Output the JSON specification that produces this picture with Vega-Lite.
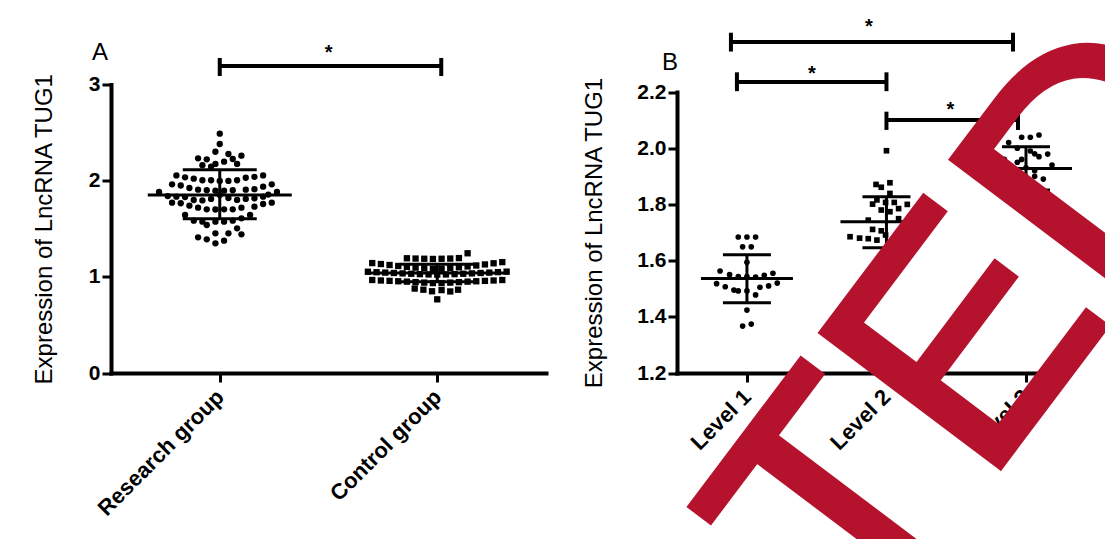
{
  "$schema": "https://vega.github.io/schema/vega-lite/v6.json",
  "background": "white",
  "padding": {"left": 32, "top": -29.5, "right": 0, "bottom": 0},
  "bounds": "flush",
  "spacing": 131,
  "config": {
    "view": {"stroke": null},
    "font": "Liberation Sans",
    "axis": {
      "domainColor": "black", "domainWidth": 4, "domainCap": "square",
      "tickColor": "black", "tickWidth": 3, "tickSize": 9,
      "labelColor": "black", "labelFont": "Liberation Sans", "labelFontWeight": "bold", "labelFontSize": 21, "labelPadding": 2,
      "titleColor": "black", "titleFont": "Liberation Sans", "titleFontWeight": "normal", "titleFontSize": 24, "titlePadding": 31,
      "grid": false
    },
    "title": {"font": "Liberation Sans", "fontSize": 24, "fontWeight": "normal", "color": "black", "anchor": "start", "frame": "group", "align": "right", "baseline": "alphabetic", "offset": 0}
  },
  "datasets": {
    "pointsA": [
      {"group": "Research group", "col": 0, "value": 2.489},
      {"group": "Research group", "col": 0, "value": 2.381},
      {"group": "Research group", "col": -0.5, "value": 2.301},
      {"group": "Research group", "col": 1, "value": 2.277},
      {"group": "Research group", "col": 2.5, "value": 2.26},
      {"group": "Research group", "col": -2.5, "value": 2.232},
      {"group": "Research group", "col": -1.5, "value": 2.222},
      {"group": "Research group", "col": 1.5, "value": 2.225},
      {"group": "Research group", "col": 0.5, "value": 2.198},
      {"group": "Research group", "col": -0.5, "value": 2.174},
      {"group": "Research group", "col": 2, "value": 2.174},
      {"group": "Research group", "col": -2, "value": 2.16},
      {"group": "Research group", "col": -1, "value": 2.145},
      {"group": "Research group", "col": -5, "value": 2.055},
      {"group": "Research group", "col": -4, "value": 2.035},
      {"group": "Research group", "col": -3, "value": 2.021},
      {"group": "Research group", "col": -2, "value": 2.004},
      {"group": "Research group", "col": -1, "value": 2.004},
      {"group": "Research group", "col": 0, "value": 1.997},
      {"group": "Research group", "col": 1, "value": 1.997},
      {"group": "Research group", "col": 2, "value": 2.004},
      {"group": "Research group", "col": 3, "value": 2.03},
      {"group": "Research group", "col": 4, "value": 2.04},
      {"group": "Research group", "col": 5, "value": 2.055},
      {"group": "Research group", "col": -5.5, "value": 1.962},
      {"group": "Research group", "col": -4.5, "value": 1.95},
      {"group": "Research group", "col": -3.5, "value": 1.924},
      {"group": "Research group", "col": -2.5, "value": 1.906},
      {"group": "Research group", "col": -1.5, "value": 1.9},
      {"group": "Research group", "col": -0.5, "value": 1.896},
      {"group": "Research group", "col": 0.5, "value": 1.896},
      {"group": "Research group", "col": 1.5, "value": 1.9},
      {"group": "Research group", "col": 3, "value": 1.906},
      {"group": "Research group", "col": 4, "value": 1.912},
      {"group": "Research group", "col": 5, "value": 1.938},
      {"group": "Research group", "col": 6, "value": 1.962},
      {"group": "Research group", "col": -7, "value": 1.882},
      {"group": "Research group", "col": -6, "value": 1.84},
      {"group": "Research group", "col": -5, "value": 1.834},
      {"group": "Research group", "col": -4, "value": 1.83},
      {"group": "Research group", "col": -3, "value": 1.799},
      {"group": "Research group", "col": -2, "value": 1.795},
      {"group": "Research group", "col": -1, "value": 1.81},
      {"group": "Research group", "col": 0, "value": 1.85},
      {"group": "Research group", "col": 1, "value": 1.82},
      {"group": "Research group", "col": 2, "value": 1.8},
      {"group": "Research group", "col": 3, "value": 1.81},
      {"group": "Research group", "col": 4, "value": 1.816},
      {"group": "Research group", "col": 5, "value": 1.834},
      {"group": "Research group", "col": 5.6, "value": 1.855},
      {"group": "Research group", "col": 6.6, "value": 1.882},
      {"group": "Research group", "col": -5.5, "value": 1.771},
      {"group": "Research group", "col": -4.5, "value": 1.765},
      {"group": "Research group", "col": -3.5, "value": 1.74},
      {"group": "Research group", "col": -2.5, "value": 1.719},
      {"group": "Research group", "col": -1.5, "value": 1.702},
      {"group": "Research group", "col": -0.5, "value": 1.7},
      {"group": "Research group", "col": 0.5, "value": 1.702},
      {"group": "Research group", "col": 1.5, "value": 1.702},
      {"group": "Research group", "col": 2.5, "value": 1.719},
      {"group": "Research group", "col": 4, "value": 1.73},
      {"group": "Research group", "col": 5, "value": 1.757},
      {"group": "Research group", "col": 6, "value": 1.771},
      {"group": "Research group", "col": -4, "value": 1.643},
      {"group": "Research group", "col": -3, "value": 1.584},
      {"group": "Research group", "col": -2, "value": 1.574},
      {"group": "Research group", "col": -1.5, "value": 1.539},
      {"group": "Research group", "col": -0.5, "value": 1.574},
      {"group": "Research group", "col": 0.5, "value": 1.574},
      {"group": "Research group", "col": 1.5, "value": 1.584},
      {"group": "Research group", "col": 2.5, "value": 1.608},
      {"group": "Research group", "col": 3.5, "value": 1.643},
      {"group": "Research group", "col": -2.5, "value": 1.411},
      {"group": "Research group", "col": -1.5, "value": 1.39},
      {"group": "Research group", "col": -0.5, "value": 1.452},
      {"group": "Research group", "col": -0.5, "value": 1.348},
      {"group": "Research group", "col": 0.5, "value": 1.376},
      {"group": "Research group", "col": 1, "value": 1.452},
      {"group": "Research group", "col": 2, "value": 1.504},
      {"group": "Research group", "col": 2.5, "value": 1.442},
      {"group": "Control group", "col": -3.5, "value": 1.193},
      {"group": "Control group", "col": -2.5, "value": 1.19},
      {"group": "Control group", "col": -1.5, "value": 1.188},
      {"group": "Control group", "col": -0.5, "value": 1.186},
      {"group": "Control group", "col": 0.5, "value": 1.188},
      {"group": "Control group", "col": 1.5, "value": 1.19},
      {"group": "Control group", "col": 2.5, "value": 1.195},
      {"group": "Control group", "col": 3.5, "value": 1.245},
      {"group": "Control group", "col": -7.5, "value": 1.143},
      {"group": "Control group", "col": -6.5, "value": 1.133},
      {"group": "Control group", "col": -5.5, "value": 1.123},
      {"group": "Control group", "col": -4.5, "value": 1.113},
      {"group": "Control group", "col": -3.5, "value": 1.104},
      {"group": "Control group", "col": -2.5, "value": 1.096},
      {"group": "Control group", "col": -1.5, "value": 1.089},
      {"group": "Control group", "col": -0.5, "value": 1.083},
      {"group": "Control group", "col": 0.5, "value": 1.084},
      {"group": "Control group", "col": 1.5, "value": 1.091},
      {"group": "Control group", "col": 2.5, "value": 1.099},
      {"group": "Control group", "col": 3.5, "value": 1.108},
      {"group": "Control group", "col": 4.5, "value": 1.118},
      {"group": "Control group", "col": 5.5, "value": 1.129},
      {"group": "Control group", "col": 6.5, "value": 1.141},
      {"group": "Control group", "col": 7.5, "value": 1.153},
      {"group": "Control group", "col": -8, "value": 1.053},
      {"group": "Control group", "col": -7, "value": 1.048},
      {"group": "Control group", "col": -6, "value": 1.044},
      {"group": "Control group", "col": -5, "value": 1.04},
      {"group": "Control group", "col": -4, "value": 1.036},
      {"group": "Control group", "col": -3, "value": 1.032},
      {"group": "Control group", "col": -2, "value": 1.028},
      {"group": "Control group", "col": -1, "value": 1.025},
      {"group": "Control group", "col": 0, "value": 1.023},
      {"group": "Control group", "col": 1, "value": 1.025},
      {"group": "Control group", "col": 2, "value": 1.028},
      {"group": "Control group", "col": 3, "value": 1.032},
      {"group": "Control group", "col": 4, "value": 1.036},
      {"group": "Control group", "col": 5, "value": 1.04},
      {"group": "Control group", "col": 6, "value": 1.044},
      {"group": "Control group", "col": 7, "value": 1.049},
      {"group": "Control group", "col": 8, "value": 1.054},
      {"group": "Control group", "col": -7.5, "value": 0.967},
      {"group": "Control group", "col": -6.5, "value": 0.962},
      {"group": "Control group", "col": -5.5, "value": 0.958},
      {"group": "Control group", "col": -4.5, "value": 0.954},
      {"group": "Control group", "col": -3.5, "value": 0.95},
      {"group": "Control group", "col": -2.5, "value": 0.945},
      {"group": "Control group", "col": -1.5, "value": 0.94},
      {"group": "Control group", "col": -0.5, "value": 0.935},
      {"group": "Control group", "col": 0.5, "value": 0.935},
      {"group": "Control group", "col": 1.5, "value": 0.94},
      {"group": "Control group", "col": 2.5, "value": 0.945},
      {"group": "Control group", "col": 3.5, "value": 0.95},
      {"group": "Control group", "col": 4.5, "value": 0.954},
      {"group": "Control group", "col": 5.5, "value": 0.958},
      {"group": "Control group", "col": 6.5, "value": 0.962},
      {"group": "Control group", "col": 7.5, "value": 0.967},
      {"group": "Control group", "col": -2.6, "value": 0.878},
      {"group": "Control group", "col": -1.6, "value": 0.866},
      {"group": "Control group", "col": -0.6, "value": 0.85},
      {"group": "Control group", "col": 0.5, "value": 0.862},
      {"group": "Control group", "col": 1.5, "value": 0.848},
      {"group": "Control group", "col": 2.4, "value": 0.866},
      {"group": "Control group", "col": 0, "value": 0.766}
    ],
    "summaryA": [
      {"group": "Research group", "mean": 1.85, "lo": 1.605, "hi": 2.114},
      {"group": "Control group", "mean": 1.04, "lo": 0.95, "hi": 1.13}
    ],
    "sigA": [
      {"g1": "Research group", "g2": "Control group", "y": 3.192, "lo": 3.088, "hi": 3.276, "star": 3.269, "label": "*"}
    ],
    "pointsB": [
      {"group": "Level 1", "col": -1, "value": 1.684},
      {"group": "Level 1", "col": 0, "value": 1.684},
      {"group": "Level 1", "col": 1, "value": 1.684},
      {"group": "Level 1", "col": -0.5, "value": 1.649},
      {"group": "Level 1", "col": 0.5, "value": 1.649},
      {"group": "Level 1", "col": 0, "value": 1.594},
      {"group": "Level 1", "col": -3.1, "value": 1.563},
      {"group": "Level 1", "col": -2, "value": 1.55},
      {"group": "Level 1", "col": -1, "value": 1.543},
      {"group": "Level 1", "col": 0, "value": 1.543},
      {"group": "Level 1", "col": 1, "value": 1.541},
      {"group": "Level 1", "col": 2, "value": 1.548},
      {"group": "Level 1", "col": 3, "value": 1.555},
      {"group": "Level 1", "col": -3.5, "value": 1.518},
      {"group": "Level 1", "col": -2.5, "value": 1.507},
      {"group": "Level 1", "col": -1.5, "value": 1.495},
      {"group": "Level 1", "col": -1, "value": 1.492},
      {"group": "Level 1", "col": 0, "value": 1.492},
      {"group": "Level 1", "col": 1, "value": 1.478},
      {"group": "Level 1", "col": 1.5, "value": 1.505},
      {"group": "Level 1", "col": 2.5, "value": 1.51},
      {"group": "Level 1", "col": 3.5, "value": 1.52},
      {"group": "Level 1", "col": 0, "value": 1.424},
      {"group": "Level 1", "col": -0.5, "value": 1.367},
      {"group": "Level 1", "col": 0.5, "value": 1.374},
      {"group": "Level 2", "col": 0, "value": 1.991},
      {"group": "Level 2", "col": -1.2, "value": 1.871},
      {"group": "Level 2", "col": -0.6, "value": 1.861},
      {"group": "Level 2", "col": 0.4, "value": 1.877},
      {"group": "Level 2", "col": 0.4, "value": 1.839},
      {"group": "Level 2", "col": -1.1, "value": 1.816},
      {"group": "Level 2", "col": -0.1, "value": 1.807},
      {"group": "Level 2", "col": 0.9, "value": 1.807},
      {"group": "Level 2", "col": -1.6, "value": 1.801},
      {"group": "Level 2", "col": 1.4, "value": 1.785},
      {"group": "Level 2", "col": -0.6, "value": 1.78},
      {"group": "Level 2", "col": 0.4, "value": 1.774},
      {"group": "Level 2", "col": -2.1, "value": 1.744},
      {"group": "Level 2", "col": 1.4, "value": 1.749},
      {"group": "Level 2", "col": -1.6, "value": 1.711},
      {"group": "Level 2", "col": -0.6, "value": 1.706},
      {"group": "Level 2", "col": -4.2, "value": 1.685},
      {"group": "Level 2", "col": -3.1, "value": 1.68},
      {"group": "Level 2", "col": -2.1, "value": 1.678},
      {"group": "Level 2", "col": -1.1, "value": 1.673},
      {"group": "Level 2", "col": -0.1, "value": 1.691},
      {"group": "Level 2", "col": 2.4, "value": 1.72},
      {"group": "Level 2", "col": 2.4, "value": 1.8},
      {"group": "Level 2", "col": 3.3, "value": 1.7},
      {"group": "Level 2", "col": 1.4, "value": 1.66},
      {"group": "Level 3", "col": -0.5, "value": 2.039},
      {"group": "Level 3", "col": 0.5, "value": 2.039},
      {"group": "Level 3", "col": 1.5, "value": 2.047},
      {"group": "Level 3", "col": 1.5, "value": 1.97},
      {"group": "Level 3", "col": 2.5, "value": 1.979},
      {"group": "Level 3", "col": 0, "value": 1.93},
      {"group": "Level 3", "col": -1, "value": 1.95},
      {"group": "Level 3", "col": 1, "value": 1.92},
      {"group": "Level 3", "col": -2, "value": 1.9},
      {"group": "Level 3", "col": 2, "value": 1.89},
      {"group": "Level 3", "col": -1.5, "value": 1.87},
      {"group": "Level 3", "col": 0.5, "value": 1.86},
      {"group": "Level 3", "col": -0.5, "value": 1.84},
      {"group": "Level 3", "col": 1, "value": 1.98},
      {"group": "Level 3", "col": -1, "value": 2.0},
      {"group": "Level 3", "col": -2.5, "value": 1.96},
      {"group": "Level 3", "col": 3, "value": 1.94},
      {"group": "Level 3", "col": -3, "value": 1.91},
      {"group": "Level 3", "col": 0, "value": 1.88},
      {"group": "Level 3", "col": 2, "value": 1.85},
      {"group": "Level 3", "col": -1.5, "value": 1.82},
      {"group": "Level 3", "col": 0.5, "value": 1.99},
      {"group": "Level 3", "col": -2, "value": 2.02},
      {"group": "Level 3", "col": 1, "value": 1.9},
      {"group": "Level 3", "col": -0.5, "value": 1.96}
    ],
    "summaryB": [
      {"group": "Level 1", "mean": 1.536, "lo": 1.45, "hi": 1.621},
      {"group": "Level 2", "mean": 1.738, "lo": 1.646, "hi": 1.827},
      {"group": "Level 3", "mean": 1.928, "lo": 1.851, "hi": 2.005}
    ],
    "sigB": [
      {"id": 1, "g1": "Level 1", "g2": "Level 3", "y": 2.378, "lo": 2.344, "hi": 2.411, "star": 2.411, "label": "*"},
      {"id": 2, "g1": "Level 1", "g2": "Level 2", "y": 2.236, "lo": 2.203, "hi": 2.27, "star": 2.244, "label": "*"},
      {"id": 3, "g1": "Level 2", "g2": "Level 3", "y": 2.1, "lo": 2.065, "hi": 2.13, "star": 2.116, "label": "*"}
    ],
    "stamp": [{"label": "TED"}]
  },
  "hconcat": [
    {
      "width": 435,
      "height": 288.5,
      "title": {"text": "A", "dx": -19, "dy": 26},
      "layer": [
        {
          "data": {"name": "pointsA"},
          "mark": {"type": "point", "filled": true, "color": "black", "opacity": 1, "size": 40, "clip": false},
          "encoding": {
            "x": {"field": "group", "type": "nominal", "title": null,
                  "scale": {"type": "point", "domain": ["Research group", "Control group"], "padding": 0.5},
                  "axis": {"labelAngle": -45, "labelFontSize": 22, "labelBaseline": "middle", "labelPadding": 11}},
            "xOffset": {"field": "col", "type": "quantitative", "scale": {"domain": [-10, 10], "range": [-86.7, 86.7]}},
            "y": {"field": "value", "type": "quantitative", "title": "Expression of LncRNA TUG1",
                  "scale": {"domain": [0, 3]}, "axis": {"values": [0, 1, 2, 3], "format": "d", "titlePadding": 32}},
            "shape": {"field": "group", "type": "nominal", "scale": {"domain": ["Research group", "Control group"], "range": ["circle", "square"]}, "legend": null}
          }
        },
        {
          "data": {"name": "summaryA"},
          "mark": {"type": "tick", "color": "black", "opacity": 1, "size": 144, "thickness": 3},
          "encoding": {
            "x": {"field": "group", "type": "nominal", "title": null},
            "y": {"field": "mean", "type": "quantitative", "title": "Expression of LncRNA TUG1"}
          }
        },
        {
          "data": {"name": "summaryA"},
          "mark": {"type": "tick", "color": "black", "opacity": 1, "size": 74, "thickness": 3},
          "encoding": {
            "x": {"field": "group", "type": "nominal", "title": null},
            "y": {"field": "hi", "type": "quantitative", "title": "Expression of LncRNA TUG1"}
          }
        },
        {
          "data": {"name": "summaryA"},
          "mark": {"type": "tick", "color": "black", "opacity": 1, "size": 74, "thickness": 3},
          "encoding": {
            "x": {"field": "group", "type": "nominal", "title": null},
            "y": {"field": "lo", "type": "quantitative", "title": "Expression of LncRNA TUG1"}
          }
        },
        {
          "data": {"name": "summaryA"},
          "mark": {"type": "rule", "color": "black", "strokeWidth": 3},
          "encoding": {
            "x": {"field": "group", "type": "nominal", "title": null},
            "y": {"field": "lo", "type": "quantitative", "title": "Expression of LncRNA TUG1"},
            "y2": {"field": "hi"}
          }
        },
        {
          "data": {"name": "sigA"},
          "mark": {"type": "rule", "color": "black", "strokeWidth": 4, "clip": false, "x2Offset": 4},
          "encoding": {
            "x": {"field": "g1", "type": "nominal", "title": null},
            "x2": {"field": "g2"},
            "y": {"field": "y", "type": "quantitative", "title": "Expression of LncRNA TUG1"}
          }
        },
        {
          "data": {"name": "sigA"},
          "mark": {"type": "rule", "color": "black", "strokeWidth": 4, "clip": false},
          "encoding": {
            "x": {"field": "g1", "type": "nominal", "title": null},
            "y": {"field": "lo", "type": "quantitative", "title": "Expression of LncRNA TUG1"},
            "y2": {"field": "hi"}
          }
        },
        {
          "data": {"name": "sigA"},
          "mark": {"type": "rule", "color": "black", "strokeWidth": 4, "clip": false, "xOffset": 4},
          "encoding": {
            "x": {"field": "g2", "type": "nominal", "title": null},
            "y": {"field": "lo", "type": "quantitative", "title": "Expression of LncRNA TUG1"},
            "y2": {"field": "hi"}
          }
        },
        {
          "data": {"name": "sigA"},
          "mark": {"type": "text", "color": "black", "fontSize": 20, "fontWeight": "bold", "font": "Liberation Sans", "align": "center", "baseline": "alphabetic", "dx": 109, "clip": false},
          "encoding": {
            "x": {"field": "g1", "type": "nominal", "title": null},
            "y": {"field": "star", "type": "quantitative", "title": "Expression of LncRNA TUG1"},
            "text": {"field": "label"}
          }
        }
      ]
    },
    {
      "width": 377,
      "height": 288.5,
      "title": {"text": "B", "dx": -15, "dy": 108},
      "layer": [
        {
          "data": {"name": "pointsB"},
          "mark": {"type": "point", "filled": true, "color": "black", "opacity": 1, "size": 32, "clip": false},
          "encoding": {
            "x": {"field": "group", "type": "nominal", "title": null,
                  "scale": {"type": "point", "domain": ["Level 1", "Level 2", "Level 3"], "padding": 0.351, "align": 0.714},
                  "axis": {"labelAngle": -45, "labelFontSize": 22, "labelBaseline": "middle", "labelPadding": 11}},
            "xOffset": {"field": "col", "type": "quantitative", "scale": {"domain": [-10, 10], "range": [-83, 83]}},
            "y": {"field": "value", "type": "quantitative", "title": "Expression of LncRNA TUG1",
                  "scale": {"domain": [1.2, 2.2], "range": [288.5, 7.5]},
                  "axis": {"values": [1.2, 1.4, 1.6, 1.8, 2.0, 2.2], "format": ".1f", "titlePadding": 30}},
            "shape": {"field": "group", "type": "nominal", "scale": {"domain": ["Level 1", "Level 2", "Level 3"], "range": ["circle", "square", "triangle-up"]}, "legend": null}
          }
        },
        {
          "data": {"name": "summaryB"},
          "mark": {"type": "tick", "color": "black", "opacity": 1, "size": 92, "thickness": 3},
          "encoding": {
            "x": {"field": "group", "type": "nominal", "title": null},
            "y": {"field": "mean", "type": "quantitative", "title": "Expression of LncRNA TUG1"}
          }
        },
        {
          "data": {"name": "summaryB"},
          "mark": {"type": "tick", "color": "black", "opacity": 1, "size": 48, "thickness": 3},
          "encoding": {
            "x": {"field": "group", "type": "nominal", "title": null},
            "y": {"field": "hi", "type": "quantitative", "title": "Expression of LncRNA TUG1"}
          }
        },
        {
          "data": {"name": "summaryB"},
          "mark": {"type": "tick", "color": "black", "opacity": 1, "size": 48, "thickness": 3},
          "encoding": {
            "x": {"field": "group", "type": "nominal", "title": null},
            "y": {"field": "lo", "type": "quantitative", "title": "Expression of LncRNA TUG1"}
          }
        },
        {
          "data": {"name": "summaryB"},
          "mark": {"type": "rule", "color": "black", "strokeWidth": 3},
          "encoding": {
            "x": {"field": "group", "type": "nominal", "title": null},
            "y": {"field": "lo", "type": "quantitative", "title": "Expression of LncRNA TUG1"},
            "y2": {"field": "hi"}
          }
        },
        {
          "data": {"name": "sigB"},
          "transform": [{"filter": "datum.id == 1"}],
          "layer": [
            {"mark": {"type": "rule", "color": "black", "strokeWidth": 4, "clip": false, "xOffset": -16, "x2Offset": -13},
             "encoding": {"x": {"field": "g1", "type": "nominal", "title": null}, "x2": {"field": "g2"}, "y": {"field": "y", "type": "quantitative", "title": "Expression of LncRNA TUG1"}}},
            {"mark": {"type": "rule", "color": "black", "strokeWidth": 4, "clip": false, "xOffset": -16},
             "encoding": {"x": {"field": "g1", "type": "nominal", "title": null}, "y": {"field": "lo", "type": "quantitative", "title": "Expression of LncRNA TUG1"}, "y2": {"field": "hi"}}},
            {"mark": {"type": "rule", "color": "black", "strokeWidth": 4, "clip": false, "xOffset": -13},
             "encoding": {"x": {"field": "g2", "type": "nominal", "title": null}, "y": {"field": "lo", "type": "quantitative", "title": "Expression of LncRNA TUG1"}, "y2": {"field": "hi"}}},
            {"mark": {"type": "text", "color": "black", "fontSize": 20, "fontWeight": "bold", "font": "Liberation Sans", "align": "center", "baseline": "alphabetic", "dx": 122, "clip": false},
             "encoding": {"x": {"field": "g1", "type": "nominal", "title": null}, "y": {"field": "star", "type": "quantitative", "title": "Expression of LncRNA TUG1"}, "text": {"field": "label"}}}
          ]
        },
        {
          "data": {"name": "sigB"},
          "transform": [{"filter": "datum.id == 2"}],
          "layer": [
            {"mark": {"type": "rule", "color": "black", "strokeWidth": 4, "clip": false, "xOffset": -10, "x2Offset": 0},
             "encoding": {"x": {"field": "g1", "type": "nominal", "title": null}, "x2": {"field": "g2"}, "y": {"field": "y", "type": "quantitative", "title": "Expression of LncRNA TUG1"}}},
            {"mark": {"type": "rule", "color": "black", "strokeWidth": 4, "clip": false, "xOffset": -10},
             "encoding": {"x": {"field": "g1", "type": "nominal", "title": null}, "y": {"field": "lo", "type": "quantitative", "title": "Expression of LncRNA TUG1"}, "y2": {"field": "hi"}}},
            {"mark": {"type": "rule", "color": "black", "strokeWidth": 4, "clip": false},
             "encoding": {"x": {"field": "g2", "type": "nominal", "title": null}, "y": {"field": "lo", "type": "quantitative", "title": "Expression of LncRNA TUG1"}, "y2": {"field": "hi"}}},
            {"mark": {"type": "text", "color": "black", "fontSize": 20, "fontWeight": "bold", "font": "Liberation Sans", "align": "center", "baseline": "alphabetic", "dx": 65, "clip": false},
             "encoding": {"x": {"field": "g1", "type": "nominal", "title": null}, "y": {"field": "star", "type": "quantitative", "title": "Expression of LncRNA TUG1"}, "text": {"field": "label"}}}
          ]
        },
        {
          "data": {"name": "sigB"},
          "transform": [{"filter": "datum.id == 3"}],
          "layer": [
            {"mark": {"type": "rule", "color": "black", "strokeWidth": 4, "clip": false, "xOffset": 0, "x2Offset": -8},
             "encoding": {"x": {"field": "g1", "type": "nominal", "title": null}, "x2": {"field": "g2"}, "y": {"field": "y", "type": "quantitative", "title": "Expression of LncRNA TUG1"}}},
            {"mark": {"type": "rule", "color": "black", "strokeWidth": 4, "clip": false},
             "encoding": {"x": {"field": "g1", "type": "nominal", "title": null}, "y": {"field": "lo", "type": "quantitative", "title": "Expression of LncRNA TUG1"}, "y2": {"field": "hi"}}},
            {"mark": {"type": "rule", "color": "black", "strokeWidth": 4, "clip": false, "xOffset": -8},
             "encoding": {"x": {"field": "g2", "type": "nominal", "title": null}, "y": {"field": "lo", "type": "quantitative", "title": "Expression of LncRNA TUG1"}, "y2": {"field": "hi"}}},
            {"mark": {"type": "text", "color": "black", "fontSize": 20, "fontWeight": "bold", "font": "Liberation Sans", "align": "center", "baseline": "alphabetic", "dx": 64, "clip": false},
             "encoding": {"x": {"field": "g1", "type": "nominal", "title": null}, "y": {"field": "star", "type": "quantitative", "title": "Expression of LncRNA TUG1"}, "text": {"field": "label"}}}
          ]
        },
        {
          "data": {"name": "stamp"},
          "mark": {"type": "text", "font": "Liberation Sans", "fontSize": 325, "fontWeight": "normal", "color": "#b5122e", "stroke": "#b5122e", "strokeWidth": 6, "angle": 307, "align": "left", "baseline": "alphabetic", "dx": -36, "clip": false},
          "encoding": {
            "x": {"datum": "Level 2"},
            "y": {"datum": 0.328},
            "text": {"field": "label"}
          }
        }
      ]
    }
  ]
}
